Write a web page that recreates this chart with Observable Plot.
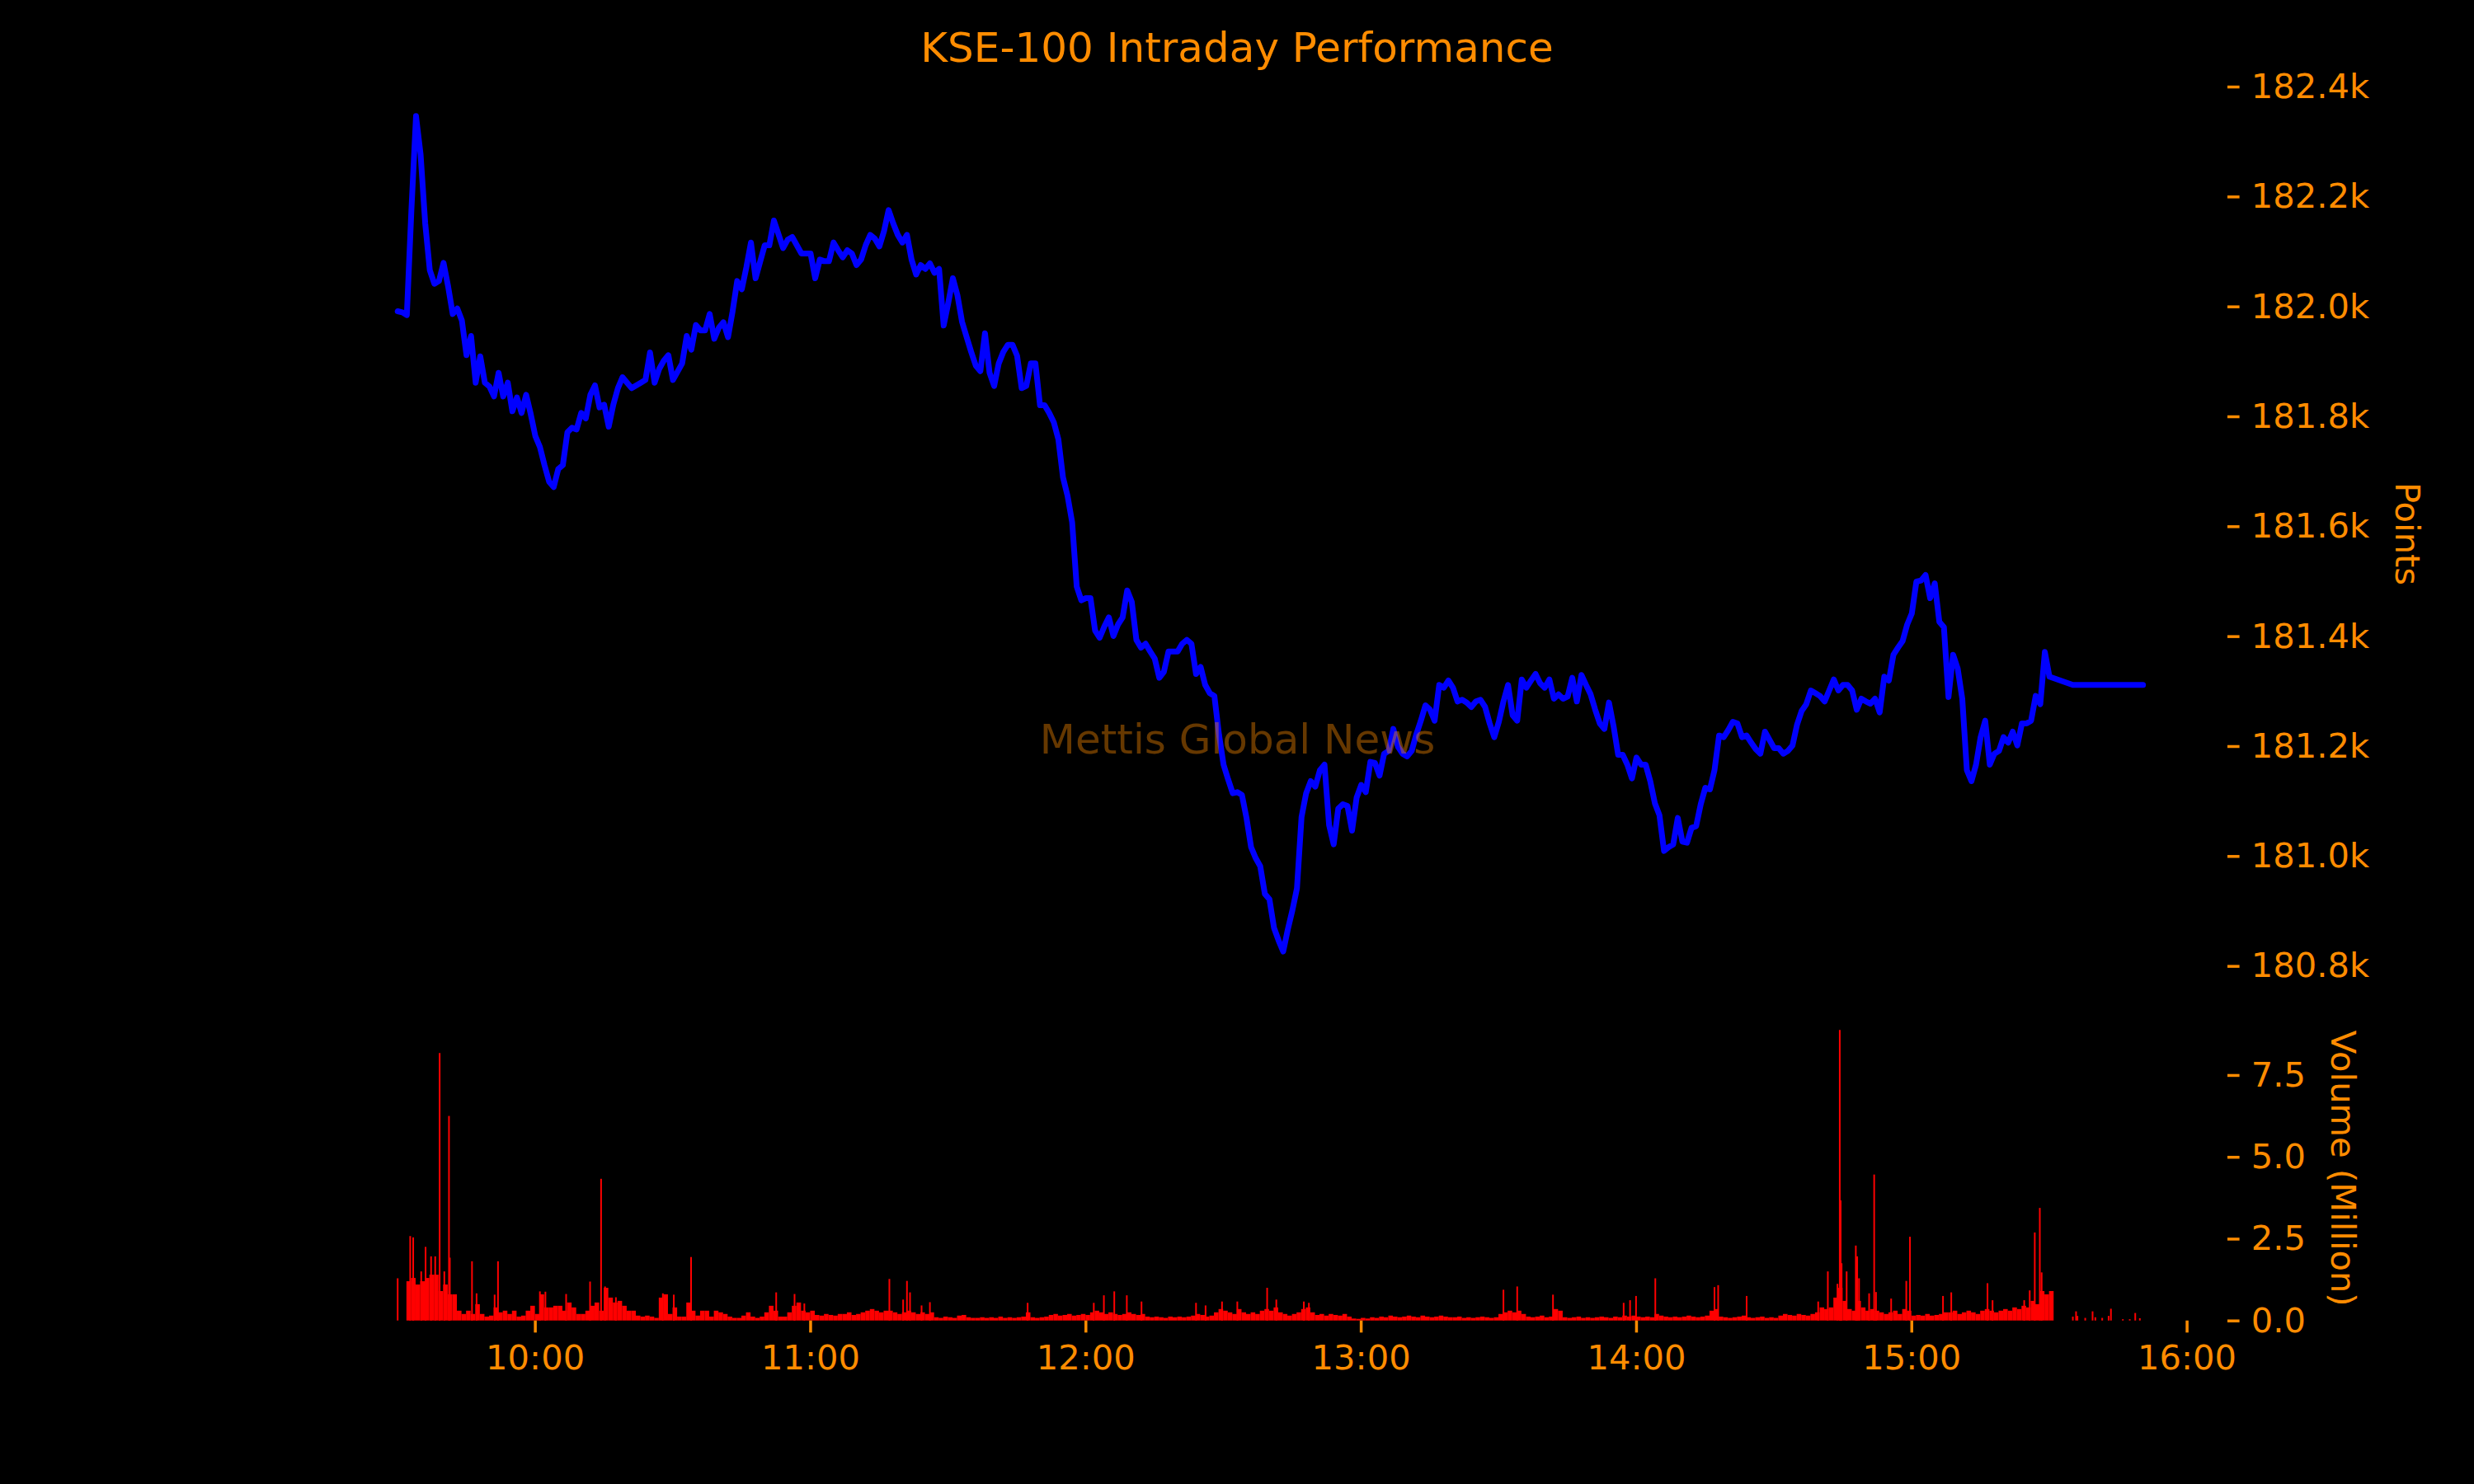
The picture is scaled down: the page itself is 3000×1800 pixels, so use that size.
<!DOCTYPE html>
<html>
<head>
<meta charset="utf-8">
<script src="https://cdn.jsdelivr.net/npm/d3@7"></script>
<script src="https://cdn.jsdelivr.net/npm/@observablehq/plot@0.6"></script>
<style>
  html, body { margin: 0; padding: 0; background: #000; }
  #wrap { position: relative; width: 3000px; height: 1800px; background: #000; overflow: hidden; font-family: "DejaVu Sans", sans-serif; }
  #title { position: absolute; left: 0; top: 33px; width: 3000px; text-align: center; font-size: 50px; line-height: 50px; color: #ff8c00; font-family: "DejaVu Sans", sans-serif; }
  #price { position: absolute; left: 0; top: 0; }
  #volume { position: absolute; left: 0; top: 1210px; }
</style>
</head>
<body>
<div id="wrap">
  <div id="price"></div>
  <div id="volume"></div>
  <div id="title">KSE-100 Intraday Performance</div>
</div>
<script>
// ---------------- DATA ----------------
const sessionOpen = "09:30:00";          // first minute of the per-minute series
const viewStart = "09:11:00";            // x view limits
const viewEnd = "16:08:42";

// KSE-100 index, one reading per minute from 09:30 to 15:30
const priceValues = [
  181992,181990,181985,182177,182347,182277,182152,182067,182042,182047,
  182080,182037,181987,181997,181975,181912,181947,181862,181910,181862,
  181855,181837,181880,181837,181862,181810,181835,181807,181840,181805,
  181765,181745,181712,181682,181672,181705,181712,181772,181780,181777,
  181807,181797,181840,181857,181817,181822,181782,181822,181852,181872,
  181862,181852,181857,181862,181867,181917,181862,181887,181902,181912,
  181867,181882,181897,181947,181922,181967,181957,181957,181987,181942,
  181962,181972,181945,181992,182047,182032,182072,182117,182052,182082,
  182112,182112,182157,182132,182107,182122,182127,182112,
  182097,182097,182097,182052,182086,182083,182083,182117,182103,182090,182103,182097,
  182076,182086,182112,182131,182124,182110,182138,182176,182152,182131,
  182117,182131,182086,182059,182076,182069,182079,182062,182069,181966,
  182007,182052,182021,181973,181945,181918,181893,181883,181952,181880,
  181856,181897,181918,181931,181931,181911,181852,181856,181897,181897,
  181821,181821,181807,181790,181759,181690,181656,181608,181491,181466,
  181470,181470,181411,181398,181418,181435,181401,181422,181435,181484,
  181463,181394,181380,181387,181373,181360,181325,181336,181373,181373,
  181373,181387,181394,181387,181332,181345,181312,181297,181292,181222,
  181167,181140,181115,181117,181112,181070,181017,180997,180982,180932,
  180922,180870,180847,180827,180867,180902,180942,181072,181115,181137,
  181127,181157,181167,181057,181022,181087,181095,181092,181047,181107,
  181130,181117,181172,181170,181147,181187,181192,181232,181200,181187,
  181182,181192,181222,181247,181275,181267,181247,181312,181307,181320,
  181307,181282,181285,181280,181272,181282,181285,181272,181242,181217,
  181245,181282,181312,181257,181247,181322,181307,181320,181332,181315,
  181307,181322,181287,181295,181287,181291,181325,181282,181330,181312,
  181295,181267,181242,181232,181280,181237,181185,181185,181167,181142,
  181180,181167,181167,181137,181097,181075,181010,181017,181022,181070,
  181027,181025,181052,181055,181095,181125,181122,181157,181220,181217,
  181230,181245,181242,181217,181220,181207,181195,181187,181227,181212,
  181197,181197,181187,181192,181202,181240,181265,181277,181302,181297,
  181292,181282,181302,181322,181302,181312,181312,181302,181267,181287,
  181282,181278,181287,181262,181327,181320,181367,181380,181392,181422,
  181442,181500,181502,181512,181470,181497,181427,181417,181290,181367,
  181342,181287,181157,181137,181167,181217,181247,181167,181187,181192,
  181217,181207,181227,
  181202,181242,181242,181247,181292,181277,181372,181327
];
// post-close readings
const priceTailTimes = ["15:35:06", "15:50:24"];
const priceTailValues = [181312, 181312];

// Per-minute background volume (million shares), 09:30 .. 15:30
const volumeBase = [
  0,0,1.2,1.3,1.1,1.2,1.3,1.4,1.4,0.9,
  1.1,0.8,0.8,0.3,0.2,0.3,0.2,0.5,0.2,0.12,
  0.15,0.4,0.25,0.3,0.2,0.3,0.12,0.15,0.3,0.45,
  0.2,0.8,0.4,0.4,0.45,0.45,0.3,0.55,0.4,0.2,
  0.2,0.3,0.45,0.55,0.3,1.0,0.7,0.55,0.6,0.45,
  0.3,0.3,0.15,0.12,0.15,0.12,0.08,0.7,0.8,0.2,
  0.4,0.12,0.12,0.55,0.3,0.15,0.3,0.3,0.12,0.3,
  0.25,0.2,0.12,0.08,0.08,0.15,0.25,0.12,0.08,0.12,
  0.25,0.45,0.3,0.12,0.12,0.25,0.45,0.55,
  0.3,0.25,0.3,
  0.17,0.15,0.2,0.17,0.15,0.2,
  0.2,0.25,0.17,0.2,0.25,
  0.3,0.35,0.3,0.25,0.3,
  0.3,0.25,0.2,0.25,0.3,0.25,0.2,0.25,0.2,0.25,
  0.1,0.08,0.12,0.1,0.08,0.15,0.17,0.1,0.08,0.08,0.1,0.08,0.1,0.08,0.12,0.08,0.1,0.08,0.1,0.12,
  0.25,0.1,0.08,0.1,0.12,
  0.17,0.2,0.15,0.17,0.2,0.15,0.17,0.2,0.17,
  0.25,0.3,0.25,0.2,0.25,0.2,0.17,0.2,0.25,0.2,0.17,0.2,
  0.12,0.1,0.12,0.1,0.08,0.12,0.1,0.12,0.1,0.12,0.15,0.2,0.17,0.12,0.15,
  0.25,0.35,0.3,0.25,0.2,0.35,0.25,0.2,0.25,0.2,0.3,0.35,0.3,0.4,0.25,0.2,0.15,0.2,0.25,0.35,0.4,0.25,
  0.17,0.2,0.15,0.2,0.17,0.15,0.2,0.12,
  0.06,0.05,0.08,0.06,0.1,0.08,
  0.12,0.1,0.15,0.12,0.1,0.12,0.15,0.12,0.1,0.15,0.12,0.1,0.12,0.15,0.12,0.1,
  0.1,0.12,0.08,0.1,0.08,0.1,0.12,0.1,0.08,0.1,
  0.2,0.25,0.3,0.25,0.3,0.2,
  0.12,0.1,0.12,0.15,0.1,0.12,
  0.35,0.3,
  0.1,0.08,0.1,0.12,0.08,0.1,0.08,0.1,0.12,0.1,0.08,0.12,0.1,0.15,
  0.12,0.15,0.12,0.1,0.12,0.1,
  0.2,0.15,0.12,0.1,0.12,0.1,0.12,0.15,0.12,0.1,0.12,0.15,
  0.3,0.35,
  0.12,0.1,0.08,0.1,0.12,0.15,0.1,0.08,0.1,0.12,0.08,0.1,0.08,
  0.15,0.2,0.17,0.15,0.2,0.17,0.15,0.2,0.25,
  0.4,0.35,0.4,
  0.7,1.0,0.6,
  0.35,0.3,0.6,0.4,0.3,0.35,
  0.3,0.25,0.2,0.25,0.3,
  0.2,0.35,0.3,0.15,0.17,0.15,0.2,0.15,0.17,0.2,0.25,
  0.25,0.3,0.2,0.25,0.3,0.25,0.2,0.3,0.35,0.3,0.25,0.3,0.35,0.3,
  0.4,0.35,0.45,0.4,0.6,
  0.5,0.9,0.8,0.9
];

// Individual large prints (million shares)
const spikeTimes = [
  "09:30:00","09:32:44","09:33:23","09:35:08","09:36:05","09:37:17","09:38:11","09:39:09","09:40:10","09:41:11",
  "09:41:22","09:46:12","09:47:12","09:51:08","09:51:52","10:01:00","10:02:12","10:06:43","10:11:56","10:14:20",
  "10:15:12","10:17:34","10:27:48","10:30:11","10:33:57","10:52:30","10:56:30","10:58:38","11:17:10","11:20:10",
  "11:21:00","11:21:40","11:24:11","11:26:00","11:47:18","12:01:43","12:03:55","12:06:11","12:08:55","12:12:07",
  "12:24:00","12:26:05","12:29:40","12:33:00","12:39:30","12:41:30","12:47:30","12:48:36","13:31:00","13:34:00",
  "13:41:48","13:57:12","13:58:36","13:59:54","14:04:06","14:17:00","14:17:48","14:24:00","14:39:36","14:41:42",
  "14:43:48","14:44:18","14:44:30","14:44:42","14:45:48","14:47:48","14:48:06","14:48:30","14:50:42","14:51:48",
  "14:52:12","14:55:30","14:58:48","14:59:36","15:06:48","15:08:36","15:16:30","15:17:36","15:24:30","15:25:42",
  "15:26:48","15:27:54","15:28:18",
  "15:35:06","15:35:48","15:36:06","15:37:48","15:39:24","15:40:00","15:41:30","15:42:54","15:43:24","15:46:00",
  "15:47:30","15:48:42","15:49:42"
];
const spikeValues = [
  1.29,2.58,2.54,1.5,2.25,1.96,1.96,8.17,1.5,6.25,
  1.92,1.81,0.83,0.79,1.81,0.89,0.88,0.81,1.19,4.33,
  1.04,0.71,0.83,0.79,1.94,0.86,0.81,0.52,1.27,0.64,
  1.21,0.86,0.46,0.56,0.54,0.54,0.77,0.89,0.77,0.58,
  0.54,0.46,0.58,0.58,1.0,0.64,0.58,0.54,0.94,1.04,
  0.79,0.54,0.62,0.75,1.29,1.02,1.08,0.75,0.58,1.5,
  1.12,8.88,3.67,1.75,1.5,2.29,1.96,1.29,0.83,4.46,
  0.87,0.67,1.21,2.56,0.75,0.86,1.14,0.62,0.62,0.92,
  2.69,3.44,1.47,
  0.12,0.28,0.14,0.08,0.28,0.1,0.08,0.14,0.36,0.04,
  0.04,0.23,0.07
];

const priceTicks = [180800, 181000, 181200, 181400, 181600, 181800, 182000, 182200, 182400];
const volumeTicks = [0, 2.5, 5.0, 7.5];
const timeTickLabels = ["10:00", "11:00", "12:00", "13:00", "14:00", "15:00", "16:00"];
const priceDomain = [180751, 182423];
const volumeDomain = [0, 9.32];

const titleText = "KSE-100 Intraday Performance";
const watermarkText = "Mettis Global News";
const priceLabel = "Points";
const volumeLabel = "Volume (Million)";

// ---------------- BUILD ----------------
const T = s => new Date(`2025-01-01T${s.length === 5 ? s + ":00" : s}Z`);
const open = T(sessionOpen);
const xDomain = [T(viewStart), T(viewEnd)];

const priceData = priceValues.map((p, i) => ({t: d3.utcMinute.offset(open, i), p}))
  .concat(priceTailTimes.map((s, i) => ({t: T(s), p: priceTailValues[i]})));
const baseData = volumeBase.map((v, i) => ({t1: d3.utcMinute.offset(open, i), t2: d3.utcMinute.offset(open, i + 1), v}));
const spikeData = spikeTimes.map((s, i) => ({t: T(s), v: spikeValues[i]}));
const timeTicks = timeTickLabels.map(T);

const ORANGE = "#ff8c00";
const FONT = "DejaVu Sans";
const FS = 41.67;
const baseStyle = {background: "#000", color: ORANGE, fontFamily: FONT, fontSize: FS + "px", overflow: "visible"};

document.getElementById("title").textContent = titleText;

const pricePlot = Plot.plot({
  width: 3000, height: 1210,
  marginLeft: 376, marginRight: 300, marginTop: 89.7, marginBottom: 5.7,
  style: baseStyle,
  x: {type: "utc", domain: xDomain, axis: null},
  y: {domain: priceDomain, axis: null},
  marks: [
    Plot.axisY({anchor: "right", ticks: priceTicks, tickFormat: d => (d / 1000).toFixed(1) + "k",
      tickSize: 14.6, tickPadding: 14.6, fontSize: FS, strokeWidth: 3.5, label: null, fill: ORANGE, stroke: ORANGE}),
    Plot.line(priceData, {x: "t", y: "p", stroke: "#0000ff", strokeWidth: 7, strokeLinejoin: "round"}),
    Plot.text([watermarkText], {frameAnchor: "middle", dx: -38, dy: 250, text: d => d,
      fill: ORANGE, fillOpacity: 0.4, fontSize: 50, fontFamily: FONT}),
    Plot.text([priceLabel], {frameAnchor: "right", dx: 218, rotate: 90, text: d => d,
      textAnchor: "middle", lineAnchor: "middle", fill: ORANGE, fontSize: FS, fontFamily: FONT})
  ]
});
document.getElementById("price").appendChild(pricePlot);

const volumePlot = Plot.plot({
  width: 3000, height: 590,
  marginLeft: 376, marginRight: 300, marginTop: 21.7, marginBottom: 198.3,
  style: baseStyle,
  x: {type: "utc", domain: xDomain, axis: null},
  y: {domain: volumeDomain, axis: null},
  marks: [
    Plot.rectY(baseData, {x1: "t1", x2: "t2", y: "v", fill: "#ff0000"}),
    Plot.ruleX(spikeData, {x: "t", y1: 0, y2: "v", stroke: "#ff0000", strokeWidth: 2}),
    Plot.axisY({anchor: "right", ticks: volumeTicks, tickFormat: d => d.toFixed(1),
      tickSize: 14.6, tickPadding: 14.6, fontSize: FS, strokeWidth: 3.5, label: null, fill: ORANGE, stroke: ORANGE}),
    Plot.axisX({anchor: "bottom", ticks: timeTicks, tickFormat: d3.utcFormat("%H:%M"),
      tickSize: 14.6, tickPadding: 14.6, fontSize: FS, strokeWidth: 3.5, label: null, fill: ORANGE, stroke: ORANGE}),
    Plot.text([volumeLabel], {frameAnchor: "right", dx: 140, rotate: 90, text: d => d,
      textAnchor: "middle", lineAnchor: "middle", fill: ORANGE, fontSize: FS, fontFamily: FONT})
  ]
});
document.getElementById("volume").appendChild(volumePlot);
</script>
</body>
</html>
